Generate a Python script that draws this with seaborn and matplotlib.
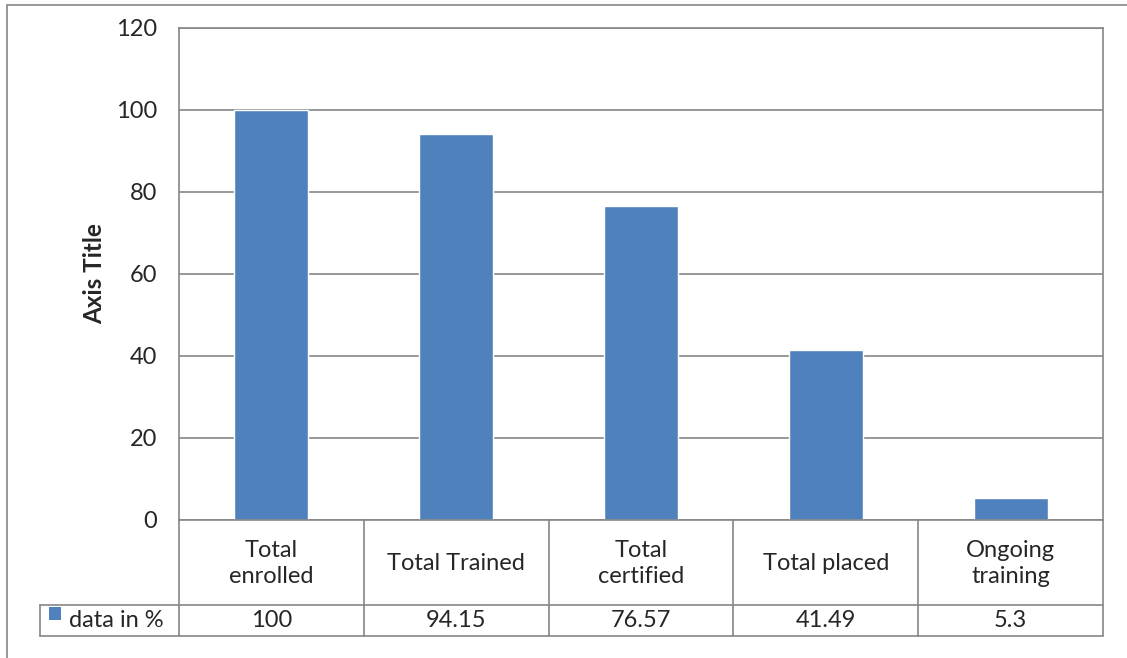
import matplotlib
matplotlib.use("Agg")
import matplotlib.pyplot as plt
import seaborn as sns
import pandas as pd
from matplotlib.patches import Rectangle
from matplotlib.lines import Line2D

categories = ["Total\nenrolled", "Total Trained", "Total\ncertified", "Total placed", "Ongoing\ntraining"]
values = [100, 94.15, 76.57, 41.49, 5.3]
value_labels = ["100", "94.15", "76.57", "41.49", "5.3"]
series_name = "data in %"
y_ticks = [0, 20, 40, 60, 80, 100, 120]
y_title = "Axis Title"

BAR = "#4F81BD"
GRID = "#868686"
FS = 17

sns.set_style("white")
plt.rcParams['font.family'] = ['Lato', 'DejaVu Sans']

W, H = 1127, 658
fig = plt.figure(figsize=(W / 100, H / 100), dpi=100)
L, R, T, B = 179, 1103, 28, 520
ax = fig.add_axes([L / W, 1 - B / H, (R - L) / W, (B - T) / H])

df = pd.DataFrame({"cat": categories, "val": values})
sns.barplot(data=df, x="cat", y="val", color=BAR, saturation=1, width=0.4, ax=ax)

ax.set_ylim(0, 120)
ax.set_xlim(-0.5, len(categories) - 0.5)
ax.set_yticks(y_ticks)
ax.set_yticklabels([str(t) for t in y_ticks], fontsize=FS)
ax.tick_params(axis="y", length=0, pad=16)
ax.set_xticks([])
ax.set_xlabel("")
ax.set_ylabel(y_title, fontsize=17.5, fontweight="bold", labelpad=7)
ax.yaxis.grid(True, color=GRID, linewidth=1.2)
ax.set_axisbelow(True)
for s in ["top", "right", "left", "bottom"]:
    ax.spines[s].set_visible(True)
    ax.spines[s].set_color(GRID)
    ax.spines[s].set_linewidth(1.2)

# data table below the axes (pixel coordinates in figure)
def fx(px):
    return px / W

def fy(py):
    return 1 - py / H

row1, row2 = 605, 636
leg_left = 40
n = len(categories)
cw = (R - L) / n
lw = 1.2
lines = []
lines.append(((leg_left, R), (row1, row1)))
lines.append(((leg_left, R), (row2, row2)))
lines.append(((L, L), (B, row2)))
lines.append(((leg_left, leg_left), (row1, row2)))
for i in range(1, n + 1):
    x = L + i * cw
    lines.append(((x, x), (B, row2)))
for xs, ys in lines:
    fig.add_artist(Line2D([fx(xs[0]), fx(xs[1])], [fy(ys[0]), fy(ys[1])],
                          transform=fig.transFigure, color=GRID, linewidth=lw))

for i, (c, v) in enumerate(zip(categories, value_labels)):
    cx = L + (i + 0.5) * cw
    fig.text(fx(cx), fy((B + row1) / 2 + 1), c, ha="center", va="center", fontsize=FS,
             linespacing=1.3)
    fig.text(fx(cx), fy((row1 + row2) / 2), v, ha="center", va="center", fontsize=FS)

# legend key
fig.add_artist(Rectangle((fx(49), fy(620)), 12 / W, 13 / H, transform=fig.transFigure,
                         facecolor=BAR, edgecolor="none"))
fig.text(fx(69), fy((row1 + row2) / 2), series_name, ha="left", va="center", fontsize=FS)

# outer chart border
fig.add_artist(Rectangle((fx(7), fy(H + 5)), (W + 5) / W, (H) / H, transform=fig.transFigure,
                         facecolor="none", edgecolor=GRID, linewidth=1.2))

fig.savefig("out.png", dpi=100, facecolor="white")
